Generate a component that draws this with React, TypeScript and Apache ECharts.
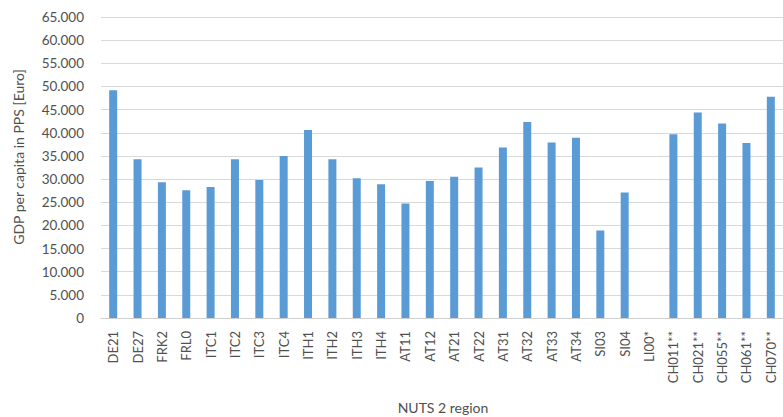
import React, { useEffect, useRef } from "react";
import * as echarts from "echarts";

const categories = [
  "DE21", "DE27", "FRK2", "FRL0", "ITC1", "ITC2", "ITC3", "ITC4", "ITH1", "ITH2",
  "ITH3", "ITH4", "AT11", "AT12", "AT21", "AT22", "AT31", "AT32", "AT33", "AT34",
  "SI03", "SI04", "LI00*", "CH011**", "CH021**", "CH055**", "CH061**", "CH070**",
];

const gdpValues: (number | null)[] = [
  49200, 34300, 29300, 27600, 28300, 34300, 29800, 35000, 40600, 34300,
  30200, 28900, 24700, 29600, 30500, 32500, 36800, 42300, 37900, 38900,
  18900, 27100, null, 39700, 44400, 42000, 37800, 47800,
];

const yTitle = "GDP per capita in PPS [Euro]";
const xTitle = "NUTS 2 region";

export default function App() {
  const ref = useRef<HTMLDivElement>(null);
  useEffect(() => {
    document.body.style.margin = "0";
    const chart = echarts.init(ref.current!, null, { renderer: "svg" });
    const font = "Lato, 'Open Sans', sans-serif";
    chart.setOption({
      animation: false,
      backgroundColor: "#ffffff",
      grid: { left: 101, top: 17, width: 684, height: 301, containLabel: false },
      xAxis: {
        type: "category",
        data: categories,
        axisLine: { show: true, lineStyle: { color: "#d0d0d0", width: 1 } },
        axisTick: { show: false },
        axisLabel: {
          rotate: 90,
          interval: 0,
          margin: 13,
          color: "#505050",
          fontSize: 13,
          fontFamily: font,
        },
      },
      yAxis: {
        type: "value",
        min: 0,
        max: 65000,
        interval: 5000,
        axisLine: { show: false },
        axisTick: { show: false },
        splitLine: { lineStyle: { color: "#d9d9d9", width: 1 } },
        axisLabel: {
          margin: 17,
          color: "#505050",
          fontSize: 13.5,
          fontFamily: font,
          formatter: (v: number) =>
            v === 0 ? "0" : String(v).replace(/\B(?=(\d{3})+(?!\d))/g, "."),
        },
      },
      graphic: [
        {
          type: "text",
          x: 18,
          y: 157,
          rotation: Math.PI / 2,
          style: {
            text: yTitle,
            fill: "#505050",
            font: `14px ${font}`,
            align: "center",
            verticalAlign: "middle",
          },
        },
        {
          type: "text",
          x: 443,
          y: 407,
          style: {
            text: xTitle,
            fill: "#505050",
            font: `14px ${font}`,
            align: "center",
            verticalAlign: "middle",
          },
        },
      ],
      series: [
        {
          type: "bar",
          data: gdpValues,
          barWidth: 8,
          itemStyle: { color: "#5b9bd5" },
        },
      ],
    });
    return () => chart.dispose();
  }, []);
  return <div ref={ref} style={{ width: 783, height: 417 }} />;
}
